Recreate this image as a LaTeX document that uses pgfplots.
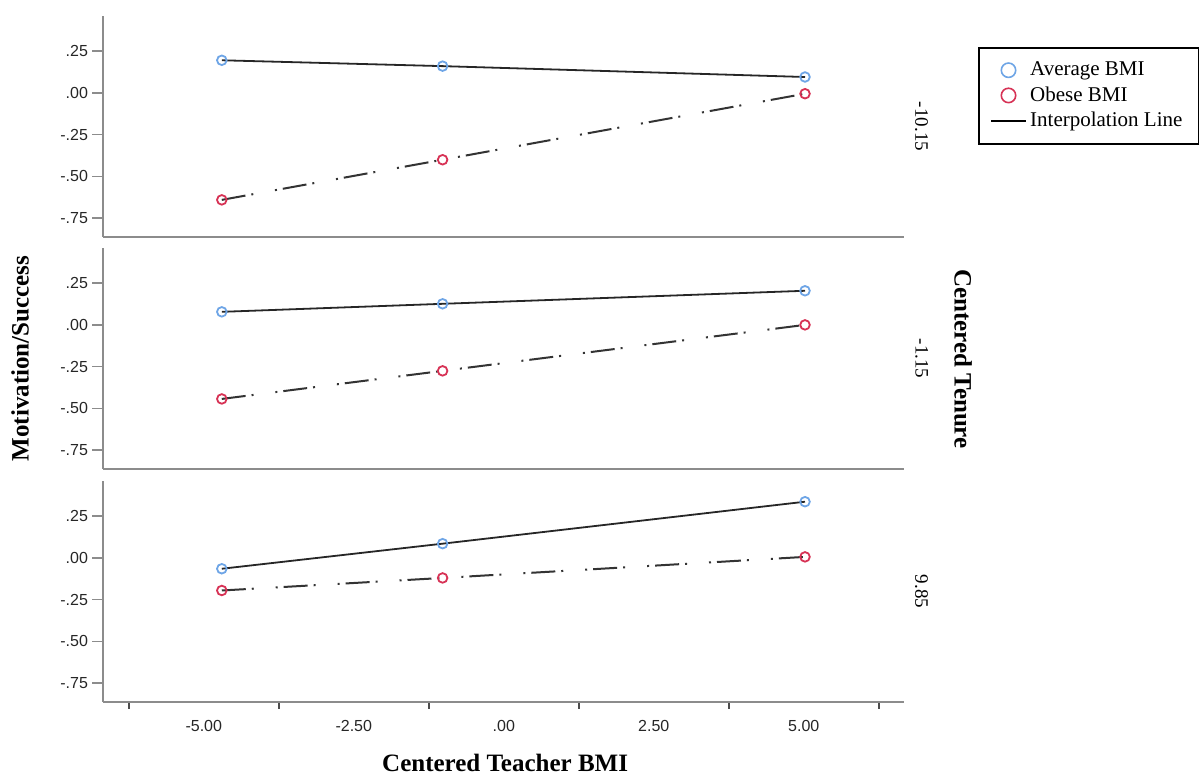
\documentclass[border=0pt]{standalone}
\usepackage{fontspec}
\setmainfont{Liberation Serif}
\setsansfont{Liberation Sans}
\usepackage{pgfplots}
\pgfplotsset{compat=1.18}
\definecolor{avgblue}{RGB}{110,165,230}
\definecolor{obred}{RGB}{215,50,85}
\definecolor{axgray}{RGB}{140,140,140}
\pgfplotsset{
 panel/.style={
  scale only axis, width=400.5pt, height=110.5pt,
  xmin=-6.68, xmax=6.67, ymin=-0.862, ymax=0.46,
  axis x line=bottom, axis y line=left,
  axis line style={-, draw=axgray, line width=1pt},
  ytick={-0.75,-0.5,-0.25,0,0.25},
  yticklabels={\textsf{-.75},\textsf{-.50},\textsf{-.25},\textsf{.00},\textsf{.25}},
  tick align=outside,
  major tick length=5.5pt,
  minor tick length=3.5pt,
  every major y tick/.append style={draw=axgray, line width=0.8pt},
  tick label style={font=\fontsize{8}{9}\selectfont, text=black!85},
  yticklabel style={xshift=1.5pt},
  clip=false,
 },
 avg/.style={black!85, line width=0.9pt, mark=o, mark size=2.4pt, mark options={draw=avgblue, line width=0.9pt, solid}},
 ob/.style={black!80, line width=1pt, dash pattern=on 12pt off 3pt on 1pt off 11pt on 1pt off 3pt, mark=o, mark size=2.4pt, mark options={draw=obred, line width=0.9pt, solid}},
}
\begin{document}
\begin{tikzpicture}
\useasboundingbox (0,0) rectangle (599.5pt,387pt);
% ---------- panel 1 ----------
\begin{axis}[panel, at={(51.5pt,268.5pt)}, anchor=south west, xtick=\empty,
  legend style={at={(1.0924,0.8597)}, anchor=north west, draw=black, line width=0.8pt,
    font=\fontsize{10.5}{12.25}\selectfont, inner xsep=6pt, inner ysep=5pt, row sep=0pt},
  legend cell align=left]
\addlegendimage{only marks, mark=o, mark size=3.6pt, mark options={draw=avgblue, line width=0.8pt}}
\addlegendentry{Average BMI}
\addlegendimage{only marks, mark=o, mark size=3.6pt, mark options={draw=obred, line width=0.8pt}}
\addlegendentry{Obese BMI}
\addlegendimage{black, line width=0.6pt}
\addlegendentry{Interpolation Line}
\addplot[avg] coordinates {(-4.70,0.195) (-1.02,0.160) (5.02,0.095)};
\addplot[ob] coordinates {(-4.70,-0.640) (-1.02,-0.400) (5.02,-0.005)};
\node[rotate=-90, font=\fontsize{9.5}{11}\selectfont] at (rel axis cs:1.022,0.5) {-10.15};
\end{axis}
% ---------- panel 2 ----------
\begin{axis}[panel, at={(51.5pt,152.5pt)}, anchor=south west, xtick=\empty]
\addplot[avg] coordinates {(-4.70,0.078) (-1.02,0.126) (5.02,0.204)};
\addplot[ob] coordinates {(-4.70,-0.443) (-1.02,-0.275) (5.02,0.000)};
\node[rotate=-90, font=\fontsize{9.5}{11}\selectfont] at (rel axis cs:1.022,0.5) {-1.15};
\node[rotate=-90, font=\fontsize{12.5}{14}\selectfont\bfseries] at (rel axis cs:1.0737,0.498) {Centered Tenure};
\node[rotate=90, font=\fontsize{12.5}{14}\selectfont\bfseries] at (rel axis cs:-0.1036,0.5) {Motivation/Success};
\end{axis}
% ---------- panel 3 ----------
\begin{axis}[panel, at={(51.5pt,36pt)}, anchor=south west,
  xtick={-5,-2.5,0,2.5,5},
  xticklabels={\textsf{-5.00},\textsf{-2.50},\textsf{.00},\textsf{2.50},\textsf{5.00}},
  minor xtick={-6.25,-3.75,-1.25,1.25,3.75,6.25},
  every major x tick/.append style={draw=none},
  every minor x tick/.append style={draw=black!70, line width=1pt},
  xticklabel style={yshift=0pt}]
\addplot[avg] coordinates {(-4.70,-0.065) (-1.02,0.085) (5.02,0.336)};
\addplot[ob] coordinates {(-4.70,-0.195) (-1.02,-0.120) (5.02,0.006)};
\node[rotate=-90, font=\fontsize{9.5}{11}\selectfont] at (rel axis cs:1.022,0.5) {9.85};
\node[font=\fontsize{12.5}{14}\selectfont\bfseries] at (rel axis cs:0.502,-0.276) {Centered Teacher BMI};
\end{axis}
\end{tikzpicture}
\end{document}
